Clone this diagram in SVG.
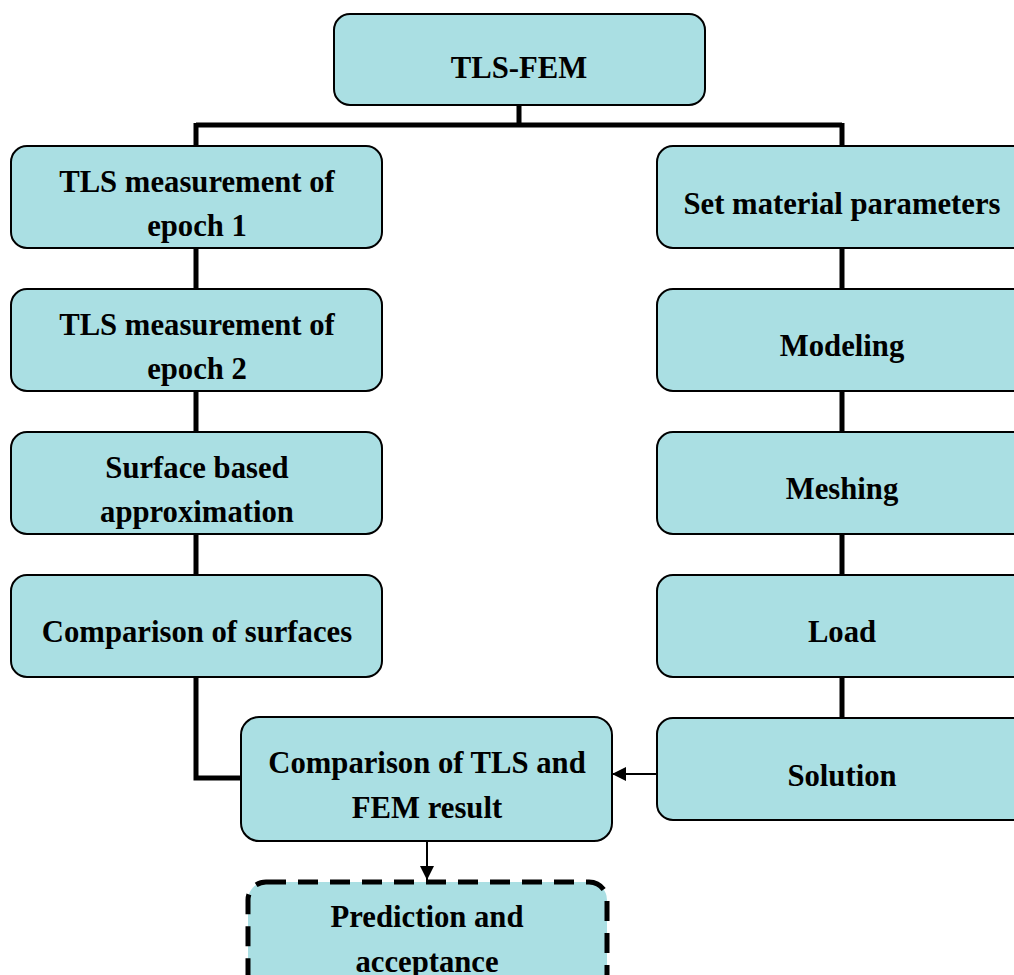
<svg xmlns="http://www.w3.org/2000/svg" width="1014" height="975" viewBox="0 0 1014 975">
<defs>
<style>
.box{fill:#aadfe3;stroke:#000;stroke-width:2}
.dash{fill:#aadfe3;stroke:#000;stroke-width:5;stroke-dasharray:20 12}
.t{font-family:"Liberation Serif","Times New Roman",serif;font-weight:bold;font-size:30.7px;text-anchor:middle;fill:#000}
.thick{fill:none;stroke:#000;stroke-width:5}
.thin{fill:none;stroke:#000;stroke-width:2}
</style>
<marker id="ah2" viewBox="0 0 10 10" refX="10" refY="5" markerWidth="14" markerHeight="14" markerUnits="userSpaceOnUse" orient="auto"><path d="M0,0 L10,5 L0,10 z" fill="#000"/></marker>
</defs>
<g id="connectors">
<path class="thick" d="M519,105 V125 M196,125 H842 M196,123 V146 M842,123 V146"/>
<path class="thick" d="M196,248 V289 M196,391 V432 M196,534 V575 M196,677 V778 H241"/>
<path class="thick" d="M842,248 V289 M842,391 V432 M842,534 V575 M842,677 V718"/>
<path class="thin" d="M657,774 H612" marker-end="url(#ah2)"/>
<path class="thin" d="M427,841 V880" marker-end="url(#ah2)"/>
</g>
<g id="tlsfem"><rect class="box" x="334" y="14" width="371" height="91" rx="16"/><text class="t" x="519" y="78">TLS-FEM</text></g>
<g id="epoch1"><rect class="box" x="11" y="146" width="371" height="102" rx="16"/><text class="t" x="197" y="192">TLS measurement of</text><text class="t" x="197" y="236">epoch 1</text></g>
<g id="epoch2"><rect class="box" x="11" y="289" width="371" height="102" rx="16"/><text class="t" x="197" y="335">TLS measurement of</text><text class="t" x="197" y="379">epoch 2</text></g>
<g id="surface"><rect class="box" x="11" y="432" width="371" height="102" rx="16"/><text class="t" x="197" y="478">Surface based</text><text class="t" x="197" y="522">approximation</text></g>
<g id="compsurf"><rect class="box" x="11" y="575" width="371" height="102" rx="16"/><text class="t" x="197" y="642">Comparison of surfaces</text></g>
<g id="material"><rect class="box" x="657" y="146" width="371" height="102" rx="16"/><text class="t" x="842" y="214">Set material parameters</text></g>
<g id="modeling"><rect class="box" x="657" y="289" width="371" height="102" rx="16"/><text class="t" x="842" y="356">Modeling</text></g>
<g id="meshing"><rect class="box" x="657" y="432" width="371" height="102" rx="16"/><text class="t" x="842" y="499">Meshing</text></g>
<g id="load"><rect class="box" x="657" y="575" width="371" height="102" rx="16"/><text class="t" x="842" y="642">Load</text></g>
<g id="solution"><rect class="box" x="657" y="718" width="371" height="102" rx="16"/><text class="t" x="842" y="786">Solution</text></g>
<g id="comptls"><rect class="box" x="241" y="717" width="371" height="124" rx="18"/><text class="t" x="427" y="773">Comparison of TLS and</text><text class="t" x="427" y="818">FEM result</text></g>
<g id="prediction"><rect class="dash" x="248" y="882" width="359" height="110" rx="18"/><text class="t" x="427" y="927">Prediction and</text><text class="t" x="427" y="972">acceptance</text></g>
</svg>
